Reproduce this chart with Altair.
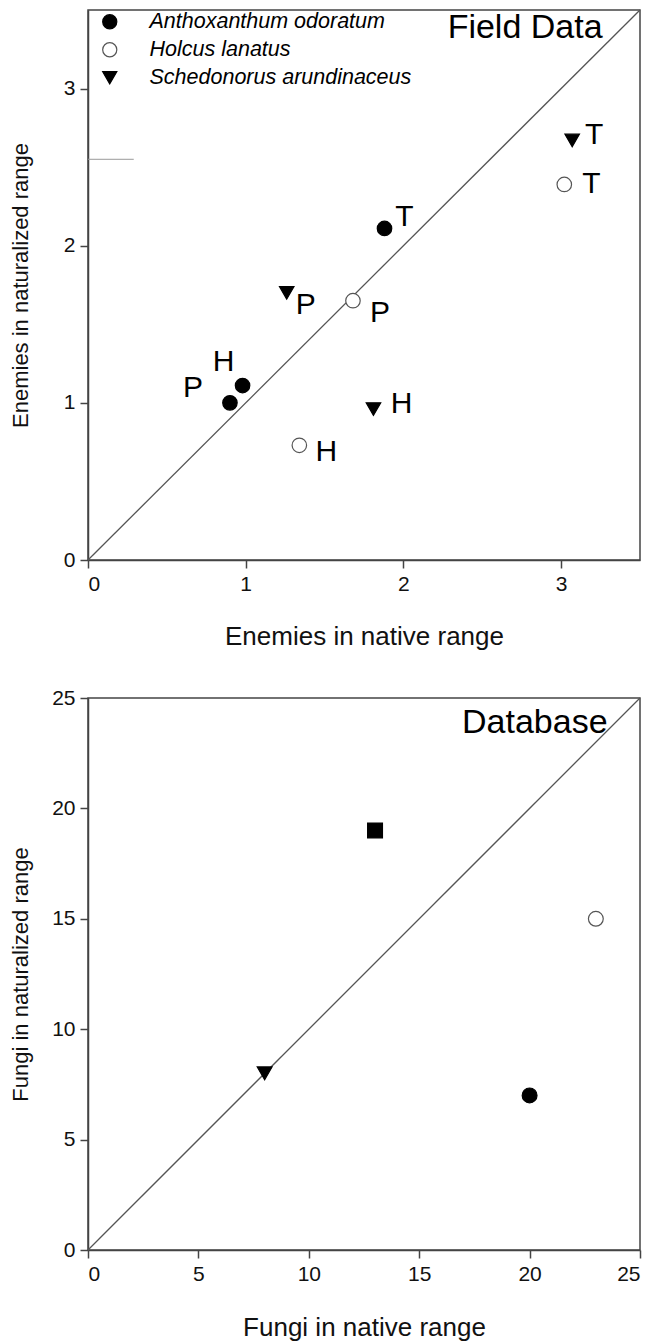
import altair as alt
import pandas as pd

FONT = "Liberation Sans"

species = ["Anthoxanthum odoratum", "Holcus lanatus", "Schedonorus arundinaceus"]

# ---- Field data (top panel) ----
fd_species = ["Anthoxanthum odoratum"] * 3 + ["Holcus lanatus"] * 3 + ["Schedonorus arundinaceus"] * 3
fd_site = ["T", "H", "P", "T", "P", "H", "T", "P", "H"]
fd_native = [1.88, 0.98, 0.90, 3.02, 1.68, 1.34, 3.07, 1.26, 1.81]
fd_natur = [2.11, 1.11, 1.00, 2.39, 1.65, 0.73, 2.67, 1.70, 0.96]

# ---- Database (bottom panel) ----
db_species = ["Anthoxanthum odoratum", "Holcus lanatus", "Schedonorus arundinaceus", "Other species"]
db_native = [20, 23, 8, 13]
db_natur = [7, 15, 8, 19]

top_ticks = [0, 1, 2, 3]
top_domain = [0, 3.5]
bot_ticks = [0, 5, 10, 15, 20, 25]
bot_domain = [0, 25]

# stray short line near the top-left of the upper panel
stray_x = [0, 0.29]
stray_y = [2.55]

# label offsets (pixels) for the site letters
LABEL_OFFSETS = {
    ("Anthoxanthum odoratum", "T"): (20, -11),
    ("Anthoxanthum odoratum", "H"): (-19, -24),
    ("Anthoxanthum odoratum", "P"): (-37, -15),
    ("Holcus lanatus", "T"): (27, 0),
    ("Holcus lanatus", "P"): (27, 12),
    ("Holcus lanatus", "H"): (27, 7),
    ("Schedonorus arundinaceus", "T"): (22, -5),
    ("Schedonorus arundinaceus", "P"): (19, 12),
    ("Schedonorus arundinaceus", "H"): (28, -5),
}

fd_df = pd.DataFrame({"species": fd_species, "site": fd_site,
                      "native": fd_native, "natur": fd_natur})
fd_df["key"] = fd_df["species"] + "|" + fd_df["site"]
db_df = pd.DataFrame({"species": db_species, "native": db_native, "natur": db_natur})
diag_top = pd.DataFrame({"native": top_domain, "natur": top_domain})
diag_bot = pd.DataFrame({"native": bot_domain, "natur": bot_domain})
stray_df = pd.DataFrame({"x": [stray_x[0]], "x2": [stray_x[1]], "y": stray_y})

LINE_COL = "#555555"


def axis(title, values, **kw):
    return alt.Axis(title=title, values=values, grid=False, format="d", **kw)


# ---------------- top panel ----------------
xt = alt.X("native:Q", scale=alt.Scale(domain=top_domain, nice=False),
           axis=axis("Enemies in native range", top_ticks, titlePadding=29, titleFontSize=26))
yt = alt.Y("natur:Q", scale=alt.Scale(domain=top_domain, nice=False),
           axis=axis("Enemies in naturalized range", top_ticks, titlePadding=31, titleFontSize=22))

leg = dict(title=None, orient="none", legendX=11, legendY=1, labelFontSize=21.5,
           labelFontStyle="italic", labelFont=FONT, labelColor="black", labelLimit=0,
           symbolSize=200, rowPadding=5, labelOffset=29, padding=0,
           symbolStrokeWidth=1.2)

top_diag = alt.Chart(diag_top).mark_line(color=LINE_COL, strokeWidth=1.3).encode(x=xt, y=yt)
top_stray = alt.Chart(stray_df).mark_rule(color="#999999", strokeWidth=1).encode(
    x=alt.X("x:Q"), x2="x2:Q", y=alt.Y("y:Q"))
top_pts = alt.Chart(fd_df).mark_point(filled=True, size=210, strokeWidth=1.2, opacity=1).encode(
    x=xt, y=yt,
    shape=alt.Shape("species:N", scale=alt.Scale(domain=species, range=["circle", "circle", "triangle-down"]),
                    legend=alt.Legend(**leg)),
    fill=alt.Fill("species:N", scale=alt.Scale(domain=species, range=["black", "white", "black"]),
                  legend=alt.Legend(**leg)),
    stroke=alt.Stroke("species:N", scale=alt.Scale(domain=species, range=["black", "#555555", "black"]),
                      legend=alt.Legend(**leg)),
)

text_layers = []
for (sp, site), (dx, dy) in LABEL_OFFSETS.items():
    key = sp + "|" + site
    text_layers.append(
        alt.Chart(fd_df).transform_filter(alt.datum.key == key)
        .mark_text(dx=dx, dy=dy, fontSize=30, font=FONT, color="black",
                   align="center", baseline="middle")
        .encode(x=xt, y=yt, text="site:N")
    )

top = alt.layer(top_diag, top_stray, top_pts, *text_layers).properties(
    width=552, height=550,
    title=alt.TitleParams("Field Data", anchor="end", fontSize=34, fontWeight="normal",
                          font=FONT, color="black", dx=-40, dy=38, offset=0),
)

# ---------------- bottom panel ----------------
xb = alt.X("native:Q", scale=alt.Scale(domain=bot_domain, nice=False),
           axis=axis("Fungi in native range", bot_ticks, titlePadding=30, titleFontSize=26))
yb = alt.Y("natur:Q", scale=alt.Scale(domain=bot_domain, nice=False),
           axis=axis("Fungi in naturalized range", bot_ticks, titlePadding=19, titleFontSize=22))

db_all = species + ["Other species"]
bot_diag = alt.Chart(diag_bot).mark_line(color=LINE_COL, strokeWidth=1.3).encode(x=xb, y=yb)
bot_pts = alt.Chart(db_df).mark_point(filled=True, size=220, strokeWidth=1.2, opacity=1).encode(
    x=xb, y=yb,
    shape=alt.Shape("species:N", scale=alt.Scale(domain=db_all,
                    range=["circle", "circle", "triangle-down", "square"]), legend=None),
    fill=alt.Fill("species:N", scale=alt.Scale(domain=db_all,
                  range=["black", "white", "black", "black"]), legend=None),
    stroke=alt.Stroke("species:N", scale=alt.Scale(domain=db_all,
                      range=["black", "#555555", "black", "black"]), legend=None),
)

bottom = alt.layer(bot_diag, bot_pts).properties(
    width=552, height=552,
    title=alt.TitleParams("Database", anchor="end", fontSize=34, fontWeight="normal",
                          font=FONT, color="black", dx=-35, dy=53, offset=0),
)

chart = (
    alt.vconcat(top, bottom, spacing=36)
    .resolve_scale(shape="independent", fill="independent", stroke="independent")
    .properties(padding={"left": 8, "top": 6, "right": 0, "bottom": 0},
                background="white")
    .configure_view(stroke="#444444", strokeWidth=1.5)
    .configure_axis(domainColor="#444444", domainWidth=1.5, tickColor="#444444",
                    tickWidth=1.5, tickSize=8, labelFontSize=21, labelFont=FONT,
                    labelColor="#111111", labelPadding=5,
                    titleFont=FONT, titleFontWeight="normal", titleColor="#111111")
)

chart.save("out.html", embed_options={"renderer": "svg", "actions": False})
